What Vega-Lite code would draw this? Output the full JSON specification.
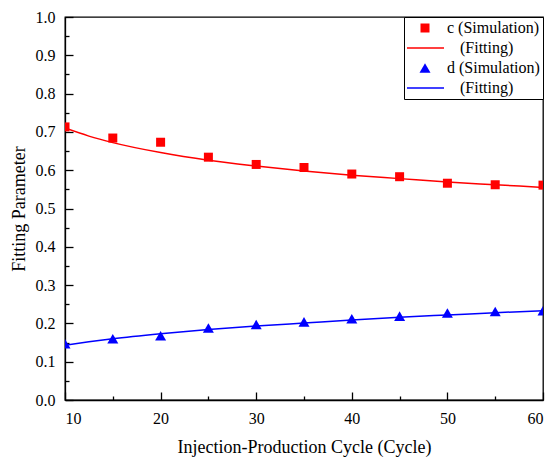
{
  "$schema": "https://vega.github.io/schema/vega-lite/v6.json",
  "width": 478,
  "height": 383,
  "autosize": {"type": "none"},
  "padding": {"left": 65, "top": 17, "right": 10, "bottom": 57},
  "background": "white",
  "config": {
    "view": {"stroke": "black", "strokeWidth": 1.3},
    "font": "'Liberation Serif', 'Times New Roman', serif",
    "axis": {
      "grid": false,
      "domainColor": "black",
      "domainWidth": 1.3,
      "tickColor": "black",
      "tickWidth": 1.3,
      "labelColor": "black",
      "labelFont": "'Liberation Serif', 'Times New Roman', serif",
      "labelFontSize": 16,
      "titleFont": "'Liberation Serif', 'Times New Roman', serif",
      "titleFontSize": 18,
      "titleFontWeight": "normal",
      "titleColor": "black"
    },
    "legend": {
      "labelFont": "'Liberation Serif', 'Times New Roman', serif"
    }
  },
  "datasets": {
    "sim": [
      {"x": 10, "value": 0.713, "key": "c_sim"},
      {"x": 15, "value": 0.684, "key": "c_sim"},
      {"x": 20, "value": 0.673, "key": "c_sim"},
      {"x": 25, "value": 0.634, "key": "c_sim"},
      {"x": 30, "value": 0.615, "key": "c_sim"},
      {"x": 35, "value": 0.607, "key": "c_sim"},
      {"x": 40, "value": 0.590, "key": "c_sim"},
      {"x": 45, "value": 0.583, "key": "c_sim"},
      {"x": 50, "value": 0.566, "key": "c_sim"},
      {"x": 55, "value": 0.562, "key": "c_sim"},
      {"x": 60, "value": 0.561, "key": "c_sim"},
      {"x": 10, "value": 0.147, "key": "d_sim"},
      {"x": 15, "value": 0.160, "key": "d_sim"},
      {"x": 20, "value": 0.168, "key": "d_sim"},
      {"x": 25, "value": 0.188, "key": "d_sim"},
      {"x": 30, "value": 0.197, "key": "d_sim"},
      {"x": 35, "value": 0.204, "key": "d_sim"},
      {"x": 40, "value": 0.212, "key": "d_sim"},
      {"x": 45, "value": 0.219, "key": "d_sim"},
      {"x": 50, "value": 0.227, "key": "d_sim"},
      {"x": 55, "value": 0.231, "key": "d_sim"},
      {"x": 60, "value": 0.233, "key": "d_sim"}
    ],
    "fit": [
      {"x": 10, "value": 0.710, "key": "c_fit"},
      {"x": 12.5, "value": 0.689, "key": "c_fit"},
      {"x": 15, "value": 0.672, "key": "c_fit"},
      {"x": 20, "value": 0.646, "key": "c_fit"},
      {"x": 25, "value": 0.626, "key": "c_fit"},
      {"x": 30, "value": 0.611, "key": "c_fit"},
      {"x": 35, "value": 0.598, "key": "c_fit"},
      {"x": 40, "value": 0.587, "key": "c_fit"},
      {"x": 45, "value": 0.578, "key": "c_fit"},
      {"x": 50, "value": 0.569, "key": "c_fit"},
      {"x": 55, "value": 0.562, "key": "c_fit"},
      {"x": 60, "value": 0.555, "key": "c_fit"},
      {"x": 10, "value": 0.143, "key": "d_fit"},
      {"x": 12.5, "value": 0.152, "key": "d_fit"},
      {"x": 15, "value": 0.160, "key": "d_fit"},
      {"x": 20, "value": 0.173, "key": "d_fit"},
      {"x": 25, "value": 0.184, "key": "d_fit"},
      {"x": 30, "value": 0.193, "key": "d_fit"},
      {"x": 35, "value": 0.201, "key": "d_fit"},
      {"x": 40, "value": 0.209, "key": "d_fit"},
      {"x": 45, "value": 0.216, "key": "d_fit"},
      {"x": 50, "value": 0.222, "key": "d_fit"},
      {"x": 55, "value": 0.228, "key": "d_fit"},
      {"x": 60, "value": 0.233, "key": "d_fit"}
    ]
  },
  "encoding": {
    "x": {
      "field": "x",
      "type": "quantitative",
      "scale": {"domain": [10, 60], "nice": false, "zero": false},
      "axis": {
        "title": "Injection-Production Cycle (Cycle)",
        "values": [10, 15, 20, 25, 30, 35, 40, 45, 50, 55, 60],
        "labelExpr": "datum.value % 10 == 0 ? datum.label : ''",
        "tickSize": {"condition": {"test": "datum.value % 10 == 0", "value": -8}, "value": -4},
        "labelPadding": 18,
        "titlePadding": 12
      }
    },
    "y": {
      "field": "value",
      "type": "quantitative",
      "scale": {"domain": [0, 1], "nice": false},
      "axis": {
        "title": "Fitting Parameter",
        "values": [0, 0.05, 0.1, 0.15, 0.2, 0.25, 0.3, 0.35, 0.4, 0.45, 0.5, 0.55, 0.6, 0.65, 0.7, 0.75, 0.8, 0.85, 0.9, 0.95, 1.0],
        "labelExpr": "round(datum.value * 100) % 10 == 0 ? format(datum.value, '.1f') : ''",
        "tickSize": {"condition": {"test": "round(datum.value * 100) % 10 == 0", "value": -8}, "value": -4},
        "labelPadding": 18,
        "titlePadding": 7
      }
    },
    "color": {
      "field": "key",
      "type": "nominal",
      "scale": {"domain": ["c_sim", "c_fit", "d_sim", "d_fit"], "range": ["#ff0000", "#ff0000", "#0000ff", "#0000ff"]},
      "legend": {
        "title": null,
        "orient": "top-right",
        "offset": 0,
        "padding": 3,
        "strokeColor": "black",
        "fillColor": "white",
        "labelFont": "'Liberation Serif', 'Times New Roman', serif",
        "labelFontSize": 16,
        "labelColor": "black",
        "labelOffset": 14,
        "symbolOffset": 10,
        "clipHeight": 16,
        "rowPadding": 4,
        "symbolSize": 64,
        "symbolStrokeWidth": 1.5,
        "labelExpr": "datum.value == 'c_sim' ? 'c (Simulation)' : datum.value == 'd_sim' ? 'd (Simulation)' : '(Fitting)'",
        "encode": {
          "symbols": {
            "update": {
              "shape": {"signal": "datum.value == 'c_sim' ? 'square' : datum.value == 'd_sim' ? 'triangle-up' : 'stroke'"},
              "size": {"signal": "datum.value == 'c_sim' ? 81 : datum.value == 'd_sim' ? 121 : 1444"},
              "fill": {"signal": "(datum.value == 'c_sim' || datum.value == 'c_fit') ? '#ff0000' : '#0000ff'"},
              "stroke": {"signal": "(datum.value == 'c_sim' || datum.value == 'c_fit') ? '#ff0000' : '#0000ff'"},
              "strokeWidth": {"signal": "(datum.value == 'c_fit' || datum.value == 'd_fit') ? 1.5 : 0"},
              "opacity": {"value": 1},
              "fillOpacity": {"value": 1}
            }
          },
          "labels": {
            "update": {
              "dx": {"signal": "(datum.value == 'c_fit' || datum.value == 'd_fit') ? 13 : 0"}
            }
          }
        }
      }
    }
  },
  "layer": [
    {
      "data": {"name": "fit"},
      "mark": {"type": "line", "interpolate": "monotone", "strokeWidth": 1.5, "clip": true}
    },
    {
      "data": {"name": "sim"},
      "mark": {"type": "point", "filled": true, "opacity": 1, "clip": true},
      "encoding": {
        "shape": {
          "field": "key",
          "type": "nominal",
          "scale": {"domain": ["c_sim", "d_sim"], "range": ["square", "triangle-up"]},
          "legend": null
        },
        "size": {
          "field": "key",
          "type": "nominal",
          "scale": {"domain": ["c_sim", "d_sim"], "range": [81, 121]},
          "legend": null
        }
      }
    }
  ]
}
